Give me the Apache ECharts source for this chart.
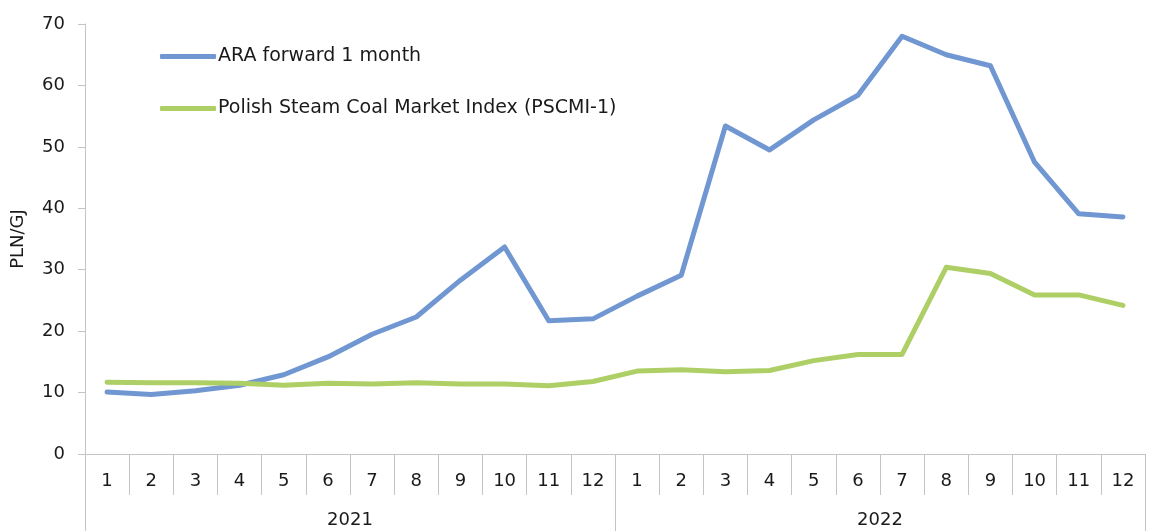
<!DOCTYPE html>
<html>
<head>
<meta charset="utf-8">
<script src="https://cdn.jsdelivr.net/npm/echarts@6/dist/echarts.min.js"></script>
<style>
  html, body { margin: 0; padding: 0; background: #fff; }
  #chart { width: 1152px; height: 531px; }
</style>
</head>
<body>
<div id="chart"></div>
<script>
// months of 2021 and 2022
const months = ["1","2","3","4","5","6","7","8","9","10","11","12",
                "1","2","3","4","5","6","7","8","9","10","11","12"];
const years = ["2021", "2022"];

const araForward = [10.1, 9.7, 10.3, 11.2, 12.9, 15.8, 19.5, 22.3, 28.3, 33.7, 21.7, 22.0,
                    25.7, 29.1, 53.4, 49.5, 54.4, 58.4, 68.0, 65.0, 63.2, 47.5, 39.1, 38.6];
const pscmi = [11.7, 11.6, 11.6, 11.5, 11.2, 11.5, 11.4, 11.6, 11.4, 11.4, 11.1, 11.8,
               13.5, 13.7, 13.4, 13.6, 15.2, 16.2, 16.2, 30.4, 29.4, 25.9, 25.9, 24.2];

const font = "DejaVu Sans";
const gridColor = "#c4c4c4";
const txt = "#1a1a1a";

const option = {
  backgroundColor: "#fff",
  animation: false,
  textStyle: { fontFamily: font },
  grid: { left: 85, right: 7, top: 24, bottom: 77, outerBoundsMode: "none", containLabel: false },
  legend: {
    orient: "vertical",
    left: 155,
    top: 42,
    itemWidth: 56,
    itemHeight: 5,
    itemGap: 33,
    icon: "roundRect",
    textStyle: { fontFamily: font, fontSize: 19, color: txt, padding: [0, 0, 0, -3] },
    data: ["ARA forward 1 month", "Polish Steam Coal Market Index (PSCMI-1)"]
  },
  xAxis: [
    {
      type: "category",
      data: months,
      boundaryGap: true,
      position: "bottom",
      axisLine: { show: true, lineStyle: { color: gridColor, width: 1 } },
      axisTick: { show: true, interval: 0, length: 41, lineStyle: { color: gridColor } },
      axisLabel: { interval: 0, margin: 18, fontFamily: font, fontSize: 18, color: txt }
    },
    {
      type: "category",
      data: years,
      boundaryGap: true,
      position: "bottom",
      axisLine: { show: false },
      axisTick: { show: true, interval: 0, length: 90, lineStyle: { color: gridColor } },
      axisLabel: { interval: 0, margin: 57, fontFamily: font, fontSize: 18, color: txt }
    }
  ],
  yAxis: {
    type: "value",
    min: 0,
    max: 70,
    interval: 10,
    name: "PLN/GJ",
    nameLocation: "middle",
    nameGap: 58,
    nameTextStyle: { fontFamily: font, fontSize: 18, color: txt },
    axisLine: { show: true, lineStyle: { color: gridColor } },
    axisTick: { show: true, length: 7, lineStyle: { color: gridColor } },
    splitLine: { show: false },
    axisLabel: { margin: 20, fontFamily: font, fontSize: 18, color: txt }
  },
  series: [
    {
      name: "ARA forward 1 month",
      type: "line",
      data: araForward,
      symbol: "none",
      color: "#7097d1",
      lineStyle: { width: 5, color: "#7097d1", cap: "round", join: "round" }
    },
    {
      name: "Polish Steam Coal Market Index (PSCMI-1)",
      type: "line",
      data: pscmi,
      symbol: "none",
      color: "#aecf66",
      lineStyle: { width: 5, color: "#aecf66", cap: "round", join: "round" }
    }
  ]
};

const myChart = echarts.init(document.getElementById("chart"));
myChart.setOption(option);
</script>
</body>
</html>
